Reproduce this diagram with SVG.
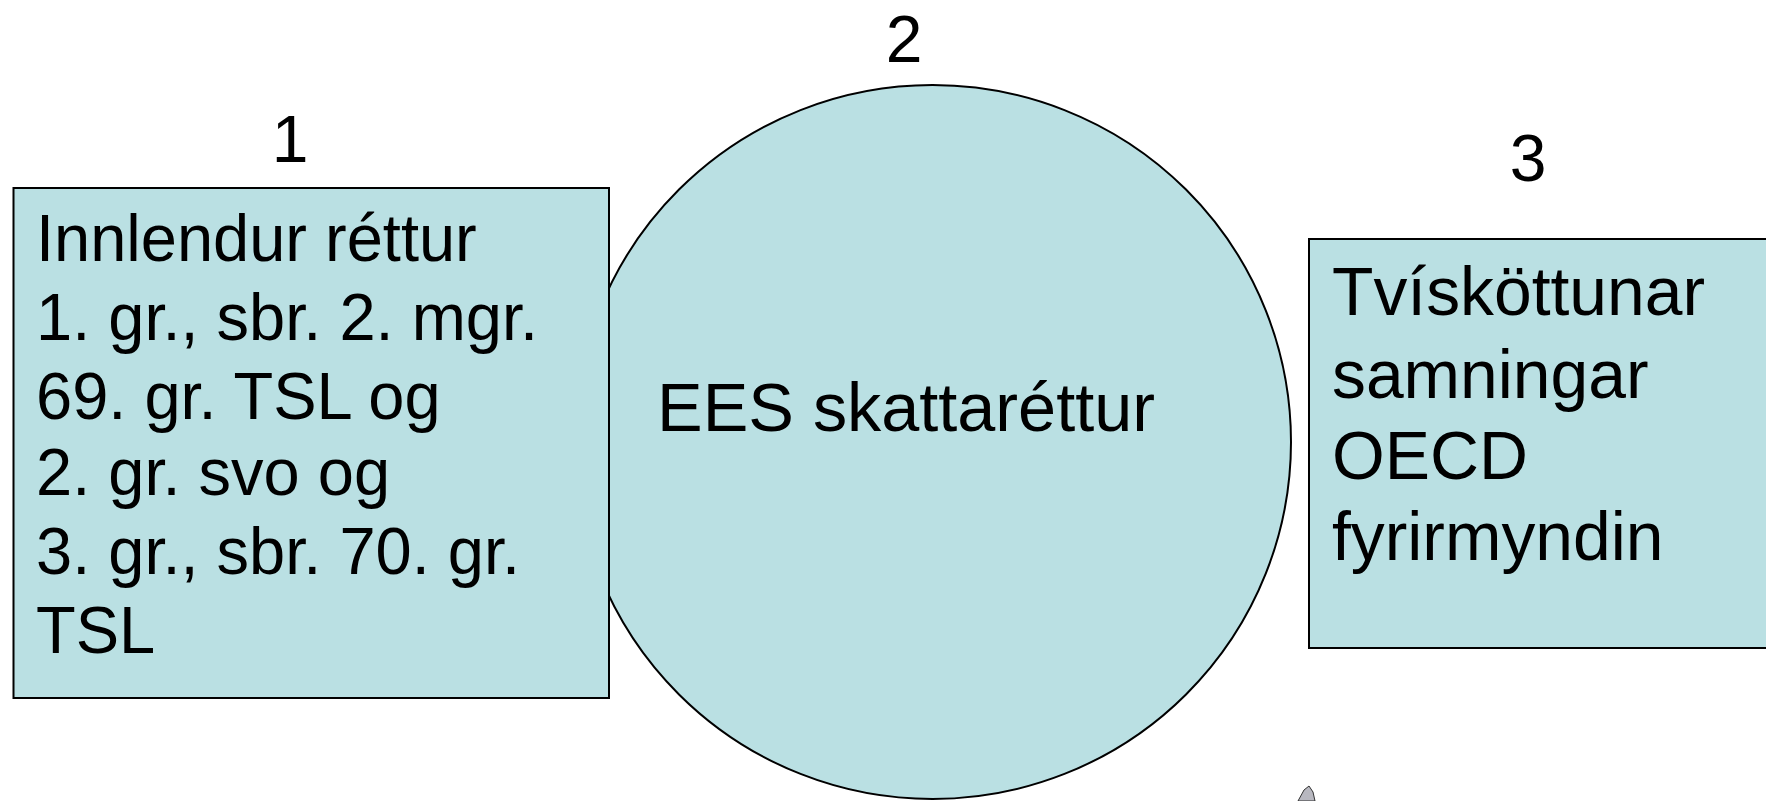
<svg xmlns="http://www.w3.org/2000/svg" width="1766" height="801" viewBox="0 0 1766 801">
<style>
.box{fill:#BAE0E3;stroke:#000;stroke-width:2}
.t{font-family:"Liberation Sans",Arial,sans-serif;fill:#000}
.num{font-family:"Liberation Sans",Arial,sans-serif;fill:#000;font-size:66px;text-anchor:middle}
</style>
<rect width="1766" height="801" fill="#fff"/>
<g id="connectors"></g>
<g id="node2">
<ellipse class="box" cx="932.5" cy="442" rx="358.5" ry="357"/>
<text class="t" x="906" y="431" font-size="68.4" text-anchor="middle">EES skattaréttur</text>
<text class="num" x="904" y="62">2</text>
</g>
<g id="node1">
<rect class="box" x="13.5" y="188" width="595.5" height="510"/>
<text class="t" font-size="65" transform="translate(36 0) scale(1 1.02)">
<tspan x="0" y="256">Innlendur réttur</tspan>
<tspan x="0" y="333.5">1. gr., sbr. 2. mgr.</tspan>
<tspan x="0" y="410.5">69. gr. TSL og</tspan>
<tspan x="0" y="485.5">2. gr. svo og</tspan>
<tspan x="0" y="562.5">3. gr., sbr. 70. gr.</tspan>
<tspan x="0" y="640">TSL</tspan>
</text>
<text class="num" x="290" y="162">1</text>
</g>
<g id="node3">
<rect class="box" x="1309" y="239" width="470" height="409"/>
<text class="t" font-size="67.8">
<tspan x="1332" y="315">Tvísköttunar</tspan>
<tspan x="1332" y="398">samningar</tspan>
<tspan x="1332" y="479">OECD</tspan>
<tspan x="1332" y="560">fyrirmyndin</tspan>
</text>
<text class="num" x="1528" y="181">3</text>
</g>
<polygon points="1298,801 1304,790 1309,786 1313,792 1315,801" fill="#b8b8c0" stroke="#333" stroke-width="1"/>
</svg>
